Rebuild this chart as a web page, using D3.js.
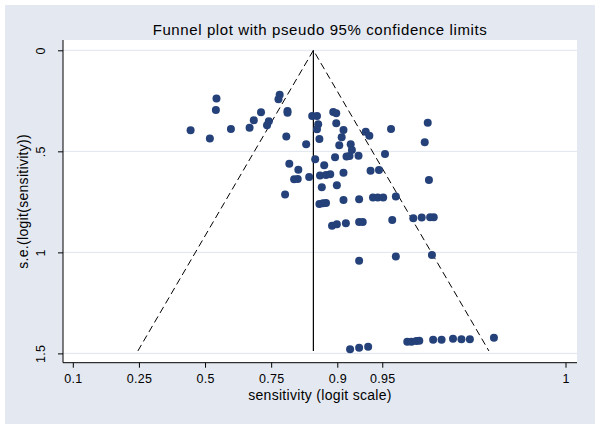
<!DOCTYPE html>
<html lang="en">
<head>
  <meta charset="UTF-8">
  <title>Funnel plot with pseudo 95% confidence limits</title>
  <script src="https://d3js.org/d3.v7.min.js"></script>
  <style>
    body {
      margin: 0;
      padding: 0;
      background: #fff;
      font-family: "Liberation Sans", Arial, sans-serif;
    }
    svg text {
      fill: #000;
    }
  </style>
</head>
<body>
  <div id="chart"></div>

  <script>
    // logit(sensitivity) and its standard error for each study
    const logitSens = [
      0.19, 0.18, -0.24, 0.08, 0.43, 0.74, 0.81, 0.93, 1.06, 1.03,
      1.24, 1.22, 1.37, 1.37, 1.35, 1.68, 1.78, 1.86, 1.88, 1.86,
      1.90, 1.83, 1.98, 1.40, 1.55, 1.48, 1.54, 1.73, 1.91, 2.01,
      2.08, 1.94, 1.33, 1.90, 1.96, 2.01, 2.13, 2.18, 2.18, 2.30,
      2.27, 2.23, 2.42, 2.44, 2.67, 2.73, 3.09, 3.70, 3.65, 2.16,
      2.35, 2.40, 2.55, 2.99, 2.30, 2.75, 2.89, 3.72, 2.19, 2.30,
      2.56, 2.79, 2.87, 2.96, 3.17, 2.11, 2.19, 2.34, 2.56, 2.62,
      3.11, 3.46, 3.60, 3.74, 3.80, 2.56, 3.17, 3.77, 2.41, 2.56,
      2.71, 3.36, 3.43, 3.51, 3.56, 3.79, 3.93, 4.12, 4.26, 4.40,
      4.80
    ];
    const seLogit = [
      0.239, 0.295, 0.396, 0.437, 0.389, 0.383, 0.346, 0.307, 0.351, 0.371,
      0.220, 0.242, 0.300, 0.309, 0.426, 0.465, 0.325, 0.325, 0.366, 0.391,
      0.439, 0.539, 0.569, 0.561, 0.591, 0.638, 0.637, 0.627, 0.620, 0.617,
      0.614, 0.678, 0.713, 0.761, 0.757, 0.756, 0.305, 0.312, 0.361, 0.394,
      0.430, 0.470, 0.465, 0.493, 0.403, 0.423, 0.389, 0.358, 0.455, 0.529,
      0.526, 0.523, 0.522, 0.513, 0.606, 0.596, 0.592, 0.642, 0.668, 0.741,
      0.737, 0.729, 0.729, 0.729, 0.724, 0.868, 0.861, 0.856, 0.850, 0.850,
      0.840, 0.831, 0.828, 0.826, 0.826, 1.041, 1.021, 1.013, 1.479, 1.472,
      1.467, 1.442, 1.442, 1.438, 1.437, 1.433, 1.433, 1.428, 1.430, 1.430,
      1.422
    ];

    const pooledLogit = 1.80;   // summary estimate
    const seMax = 1.488;        // bottom of the funnel

    const xTickProbs = [0.1, 0.25, 0.5, 0.75, 0.9, 0.95, 0.9975];
    const xTickLabels = ["0.1", "0.25", "0.5", "0.75", "0.9", "0.95", "1"];
    const yTicks = [0, 0.5, 1, 1.5];
    const yTickLabels = ["0", ".5", "1", "1.5"];

    const width = 600;
    const height = 429;
    const plot = { left: 63, right: 577, top: 40, bottom: 362.7 };

    const logit = p => Math.log(p / (1 - p));

    const svg = d3.select("#chart")
      .append("svg")
      .attr("width", width)
      .attr("height", height);

    // Stata graph region
    svg.append("rect")
      .attr("x", 5).attr("y", 5)
      .attr("width", width - 10).attr("height", height - 10)
      .attr("fill", "#e4e8f1");

    svg.append("rect")
      .attr("x", plot.left).attr("y", plot.top)
      .attr("width", plot.right - plot.left)
      .attr("height", plot.bottom - plot.top)
      .attr("fill", "#fff");

    const x = d3.scaleLinear()
      .domain([-2.36, 6.18])
      .range([plot.left, plot.right]);

    const y = d3.scaleLinear()
      .domain([-0.051, 1.546])
      .range([plot.top, plot.bottom]);

    // horizontal grid lines
    svg.append("g")
      .selectAll("line")
      .data(yTicks)
      .enter()
      .append("line")
      .attr("x1", plot.left)
      .attr("x2", plot.right)
      .attr("y1", d => y(d))
      .attr("y2", d => y(d))
      .attr("stroke", "#dfe4ef")
      .attr("stroke-width", 1);

    // x axis
    const xAxis = d3.axisBottom(x)
      .tickValues(xTickProbs.map(logit))
      .tickFormat((d, i) => xTickLabels[i])
      .tickSizeOuter(0)
      .tickSize(5)
      .tickPadding(6);

    const gx = svg.append("g")
      .attr("transform", `translate(0,${plot.bottom})`)
      .call(xAxis);
    gx.select(".domain").remove();
    gx.selectAll("text")
      .style("font-family", "Liberation Sans, Arial, sans-serif")
      .style("font-size", "12.5px")
      .style("letter-spacing", "0.3px");

    svg.append("line")
      .attr("x1", plot.left).attr("x2", plot.right)
      .attr("y1", plot.bottom).attr("y2", plot.bottom)
      .attr("stroke", "#000");

    // y axis
    const yAxis = d3.axisLeft(y)
      .tickValues(yTicks)
      .tickFormat((d, i) => yTickLabels[i])
      .tickSizeOuter(0)
      .tickSize(5);

    const gy = svg.append("g")
      .attr("transform", `translate(${plot.left},0)`)
      .call(yAxis);
    gy.select(".domain").remove();
    gy.selectAll("text")
      .attr("x", 0)
      .attr("y", 0)
      .attr("dy", null)
      .attr("transform", "translate(-18,0) rotate(-90)")
      .attr("text-anchor", "middle")
      .style("font-family", "Liberation Sans, Arial, sans-serif")
      .style("font-size", "12.5px")
      .style("letter-spacing", "0.3px");

    svg.append("line")
      .attr("x1", plot.left).attr("x2", plot.left)
      .attr("y1", plot.top).attr("y2", plot.bottom)
      .attr("stroke", "#000");

    // pseudo 95% confidence limits
    const funnel = [
      [pooledLogit - 1.96 * seMax, seMax],
      [pooledLogit, 0],
      [pooledLogit + 1.96 * seMax, seMax]
    ];
    svg.append("path")
      .datum(funnel)
      .attr("d", d3.line().x(d => x(d[0])).y(d => y(d[1])))
      .attr("fill", "none")
      .attr("stroke", "#000")
      .attr("stroke-width", 1)
      .attr("stroke-dasharray", "7,4");

    svg.append("line")
      .attr("x1", x(pooledLogit)).attr("x2", x(pooledLogit))
      .attr("y1", y(0)).attr("y2", y(seMax))
      .attr("stroke", "#000")
      .attr("stroke-width", 1.2);

    // studies
    svg.append("g")
      .selectAll("circle")
      .data(logitSens)
      .enter()
      .append("circle")
      .attr("cx", d => x(d))
      .attr("cy", (d, i) => y(seLogit[i]))
      .attr("r", 4)
      .attr("fill", "#25417a");

    // titles
    svg.append("text")
      .attr("x", (plot.left + plot.right) / 2)
      .attr("y", 35)
      .attr("text-anchor", "middle")
      .style("font-size", "15px")
      .style("letter-spacing", "0.6px")
      .text("Funnel plot with pseudo 95% confidence limits");

    svg.append("text")
      .attr("x", (plot.left + plot.right) / 2)
      .attr("y", 400)
      .attr("text-anchor", "middle")
      .style("font-size", "14px")
      .style("letter-spacing", "0.3px")
      .text("sensitivity (logit scale)");

    svg.append("text")
      .attr("transform", `translate(28,${(plot.top + plot.bottom) / 2}) rotate(-90)`)
      .attr("text-anchor", "middle")
      .style("font-size", "14px")
      .style("letter-spacing", "0.3px")
      .text("s.e.(logit(sensitivity))");
  </script>
</body>
</html>
